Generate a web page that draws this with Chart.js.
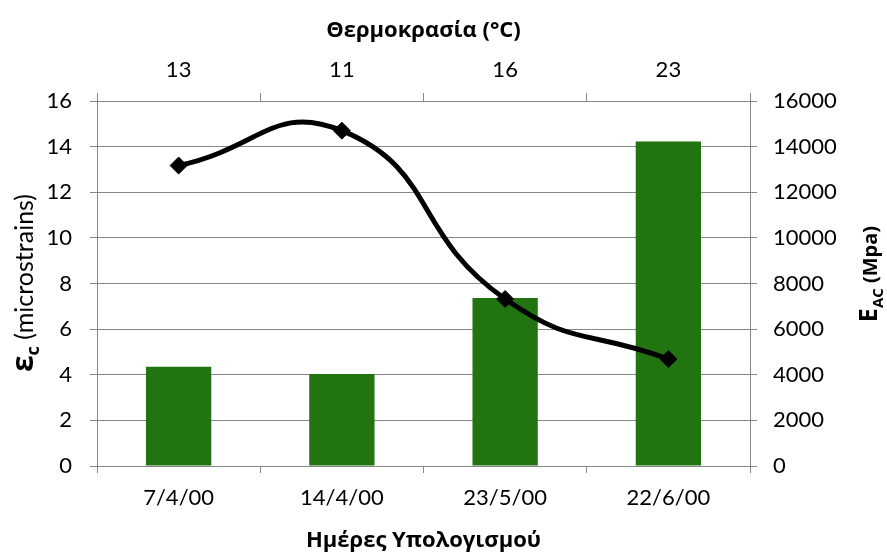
<!DOCTYPE html>
<html><head><meta charset="utf-8">
<script src="https://cdn.jsdelivr.net/npm/chart.js@4.4.1/dist/chart.umd.min.js"></script>
<style>html,body{margin:0;padding:0;background:#fff}#wrap{width:887px;height:554px}</style>
</head><body><div id="wrap"><canvas id="c" width="887" height="554"></canvas></div>
<script>
const dates = ['7/4/00', '14/4/00', '23/5/00', '22/6/00'];
const temperatures = ['13', '11', '16', '23'];
const strainValues = [4.35, 4.03, 7.36, 14.22];
const modulusValues = [13170, 14700, 7320, 4690];
const strainAxis = { min: 0, max: 16, step: 2 };
const modulusAxis = { min: 0, max: 16000, step: 2000 };
const bottomTitle = 'Ημέρες Υπολογισμού';
const topTitle = 'Θερμοκρασία (°C)';

const GRID = '#878787';
const tickFont = { family: 'Lato', size: 22 };
const greekBold = { family: '"Open Sans"', size: 22, weight: 'bold' };

function drawRotated(ctx, cx, cy, parts) {
  ctx.save();
  ctx.translate(cx, cy);
  ctx.rotate(-Math.PI / 2);
  let total = 0;
  parts.forEach(p => { ctx.font = p.font; p.w = ctx.measureText(p.t).width; total += p.w; });
  let x = -total / 2;
  ctx.textBaseline = 'alphabetic';
  ctx.textAlign = 'left';
  parts.forEach(p => { ctx.font = p.font; ctx.fillText(p.t, x, p.dy || 0); x += p.w; });
  ctx.restore();
}

const sideTitles = {
  id: 'sideTitles',
  afterDraw(chart) {
    const ctx = chart.ctx;
    ctx.save();
    ctx.fillStyle = '#000';
    drawRotated(ctx, 33, 283, [
      { t: 'ε', font: 'bold 30px "Open Sans"' },
      { t: 'c', font: 'bold 18px "Open Sans"', dy: 6 },
      { t: ' (microstrains)', font: '25px Lato' }
    ]);
    drawRotated(ctx, 877, 274, [
      { t: 'E', font: 'bold 25px "Open Sans"' },
      { t: 'AC', font: 'bold 15px "Open Sans"', dy: 6 },
      { t: ' (Mpa)', font: 'bold 20px "Open Sans"' }
    ]);
    ctx.restore();
  }
};

new Chart(document.getElementById('c'), {
  type: 'bar',
  data: {
    labels: dates,
    datasets: [
      {
        type: 'line',
        label: 'E_AC',
        data: modulusValues,
        yAxisID: 'y1',
        xAxisID: 'x',
        borderColor: '#000',
        backgroundColor: '#000',
        borderWidth: 5,
        tension: 0.5,
        pointStyle: 'rectRot',
        pointRadius: 8.5,
        pointBorderWidth: 1,
        pointBackgroundColor: '#000',
        pointBorderColor: '#000',
        fill: false,
        order: 0
      },
      {
        type: 'bar',
        label: 'εc',
        data: strainValues,
        yAxisID: 'y',
        xAxisID: 'x',
        backgroundColor: '#217410',
        borderWidth: 0,
        barPercentage: 0.4,
        categoryPercentage: 1.0,
        order: 1
      }
    ]
  },
  options: {
    responsive: false,
    animation: false,
    devicePixelRatio: 1,
    layout: { padding: 0 },
    plugins: { legend: { display: false }, tooltip: { enabled: false } },
    scales: {
      x: {
        type: 'category',
        position: 'bottom',
        offset: true,
        grid: { display: true, drawOnChartArea: false, drawTicks: true, tickLength: 7, color: GRID, offset: true },
        border: { display: true, color: GRID },
        ticks: { font: tickFont, color: '#000', padding: 12, maxRotation: 0, autoSkip: false },
        title: { display: true, text: bottomTitle, font: greekBold, color: '#000', padding: { top: 0, bottom: 0 } },
        afterFit(s) { s.height = 88; }
      },
      x2: {
        type: 'category',
        position: 'top',
        labels: temperatures,
        offset: true,
        grid: { display: true, drawOnChartArea: false, drawTicks: true, tickLength: 8, color: GRID, offset: true },
        border: { display: true, color: GRID },
        ticks: { font: tickFont, color: '#000', padding: 10, maxRotation: 0, autoSkip: false },
        title: { display: true, text: topTitle, font: greekBold, color: '#000', padding: { top: 18, bottom: 0 } },
        afterFit(s) { s.height = 101; }
      },
      y: {
        position: 'left',
        min: strainAxis.min, max: strainAxis.max,
        grid: { color: GRID, tickLength: 7, drawTicks: true },
        border: { display: true, color: GRID },
        ticks: { stepSize: strainAxis.step, font: tickFont, color: '#000', padding: 18 },
        afterFit(s) { s.width = 97; }
      },
      y1: {
        position: 'right',
        min: modulusAxis.min, max: modulusAxis.max,
        grid: { drawOnChartArea: false, color: GRID, tickLength: 7, drawTicks: true },
        border: { display: true, color: GRID },
        ticks: { stepSize: modulusAxis.step, font: tickFont, color: '#000', padding: 16, callback: v => String(v) },
        afterFit(s) { s.width = 137; }
      }
    }
  },
  plugins: [sideTitles]
});
</script></body></html>
